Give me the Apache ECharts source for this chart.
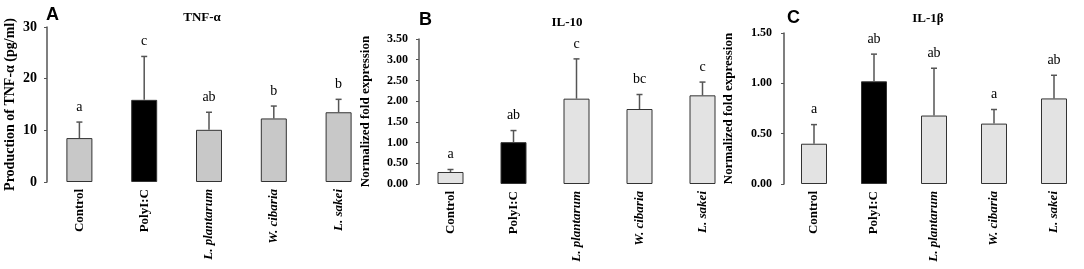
<!DOCTYPE html>
<html>
<head>
<meta charset="utf-8">
<script src="https://cdn.jsdelivr.net/npm/echarts@6/dist/echarts.min.js"></script>
<style>
  html, body { margin: 0; padding: 0; background: #fff; }
  #main { width: 1084px; height: 269px; }
</style>
</head>
<body>
<div id="main"></div>
<script>
// categories and values
var categories = ['Control', 'PolyI:C', 'L. plantarum', 'W. cibaria', 'L. sakei'];

var tnfMean = [8.5, 15.9, 10.1, 12.3, 13.5];
var tnfErr = [3.1, 8.4, 3.4, 2.4, 2.5];
var tnfLetters = ['a', 'c', 'ab', 'b', 'b'];

var il10Mean = [0.29, 1.01, 2.06, 1.81, 2.14];
var il10Err = [0.06, 0.28, 0.96, 0.35, 0.32];
var il10Letters = ['a', 'ab', 'c', 'bc', 'c'];

var il1bMean = [0.40, 1.02, 0.68, 0.60, 0.85];
var il1bErr = [0.19, 0.27, 0.47, 0.14, 0.23];
var il1bLetters = ['a', 'ab', 'ab', 'a', 'ab'];

var serif = '"Liberation Serif", "Times New Roman", serif';
var sans = '"Liberation Sans", Arial, sans-serif';

var myChart = echarts.init(document.getElementById('main'));

function catData() {
    return categories.map(function (c, i) {
        return { value: c, textStyle: { fontStyle: i > 1 ? 'italic' : 'normal' } };
    });
}

function xAxisFor(gi) {
    return {
        type: 'category', gridIndex: gi, data: catData(),
        axisLine: { show: false }, axisTick: { show: false },
        axisLabel: { rotate: 90, margin: 7, color: '#000', fontFamily: serif, fontWeight: 'bold', fontSize: 13 }
    };
}

function yAxisFor(gi, max, interval, name, nameSize, nameGap, digits, lblSize, lblMargin) {
    return {
        type: 'value', gridIndex: gi, min: 0, max: max, interval: interval,
        name: name, nameLocation: 'middle', nameGap: nameGap,
        nameTextStyle: { color: '#000', fontFamily: serif, fontWeight: 'bold', fontSize: nameSize },
        axisLine: { show: true, lineStyle: { color: '#555', width: 1.5 } },
        axisTick: { show: true, inside: false, length: 3, lineStyle: { color: '#555' } },
        splitLine: { show: false },
        axisLabel: {
            color: '#000', fontFamily: serif, fontWeight: 'bold', fontSize: lblSize, margin: lblMargin,
            formatter: function (v) { return digits ? v.toFixed(digits) : v; }
        }
    };
}

function barSeries(gi, mean, fill) {
    return {
        type: 'bar', xAxisIndex: gi, yAxisIndex: gi, barWidth: 26,
        data: mean.map(function (v, i) {
            return { value: v, itemStyle: { color: i === 1 ? '#000' : fill } };
        }),
        itemStyle: { borderColor: '#333', borderWidth: 1 }
    };
}

function errSeries(gi, mean, err, letters) {
    return {
        type: 'custom', xAxisIndex: gi, yAxisIndex: gi, z: 5,
        data: mean.map(function (v, i) { return [i, v, v + err[i]]; }),
        renderItem: function (params, api) {
            var i = api.value(0);
            var p0 = api.coord([i, api.value(1)]);
            var p1 = api.coord([i, api.value(2)]);
            var st = { stroke: '#555', lineWidth: 1.5 };
            return {
                type: 'group',
                children: [
                    { type: 'line', shape: { x1: p0[0], y1: p0[1], x2: p1[0], y2: p1[1] }, style: st },
                    { type: 'line', shape: { x1: p1[0] - 3, y1: p1[1], x2: p1[0] + 3, y2: p1[1] }, style: st },
                    { type: 'text', x: p1[0], y: p1[1] - 8,
                      style: { text: letters[i], fill: '#000', font: '14px ' + serif,
                               align: 'center', verticalAlign: 'bottom' } }
                ]
            };
        }
    };
}

myChart.setOption({
    animation: false,
    backgroundColor: '#fff',
    title: [
        { text: 'A', left: 41, top: 1, textStyle: { fontFamily: sans, fontWeight: 'bold', fontSize: 18, color: '#000' } },
        { text: 'TNF-α', left: 197, top: 6, textAlign: 'center', textStyle: { fontFamily: serif, fontWeight: 'bold', fontSize: 13, color: '#000' } },
        { text: 'B', left: 414, top: 6, textStyle: { fontFamily: sans, fontWeight: 'bold', fontSize: 18, color: '#000' } },
        { text: 'IL-10', left: 562, top: 11, textAlign: 'center', textStyle: { fontFamily: serif, fontWeight: 'bold', fontSize: 13, color: '#000' } },
        { text: 'C', left: 782, top: 4, textStyle: { fontFamily: sans, fontWeight: 'bold', fontSize: 18, color: '#000' } },
        { text: 'IL-1β', left: 923, top: 7, textAlign: 'center', textStyle: { fontFamily: serif, fontWeight: 'bold', fontSize: 13, color: '#000' } }
    ],
    grid: [
        { left: 47, top: 27, width: 324, height: 155 },
        { left: 419, top: 39, width: 315, height: 145 },
        { left: 784, top: 33, width: 313, height: 151 }
    ],
    xAxis: [xAxisFor(0), xAxisFor(1), xAxisFor(2)],
    yAxis: [
        yAxisFor(0, 30, 10, 'Production of TNF-α (pg/ml)', 14, 30, 0, 14, 10),
        yAxisFor(1, 3.5, 0.5, 'Normalized fold expression', 13, 47, 2, 12, 11),
        yAxisFor(2, 1.5, 0.5, 'Normalized fold expression', 13, 49, 2, 12, 12)
    ],
    series: [
        barSeries(0, tnfMean, '#c8c8c8'),
        errSeries(0, tnfMean, tnfErr, tnfLetters),
        barSeries(1, il10Mean, '#e3e3e3'),
        errSeries(1, il10Mean, il10Err, il10Letters),
        barSeries(2, il1bMean, '#e3e3e3'),
        errSeries(2, il1bMean, il1bErr, il1bLetters)
    ]
});
</script>
</body>
</html>
